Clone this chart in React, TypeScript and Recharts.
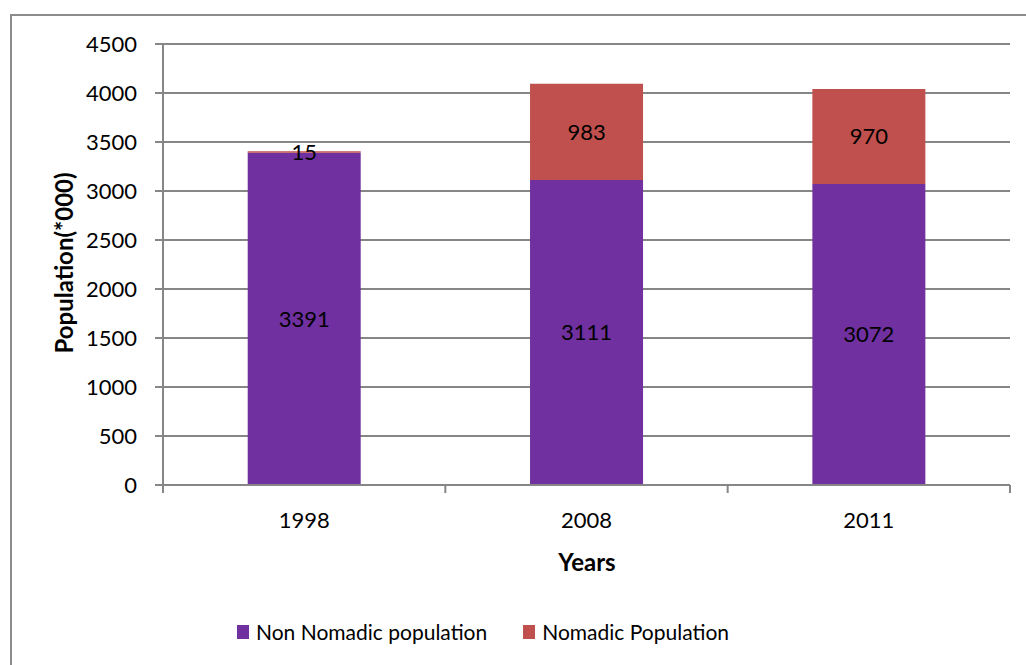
import React from 'react';
import { BarChart, Bar, XAxis, YAxis, CartesianGrid, LabelList } from 'recharts';

const years = ['1998', '2008', '2011'];
const nonNomadic = [3391, 3111, 3072];
const nomadic = [15, 983, 970];
const yTicks = [0, 500, 1000, 1500, 2000, 2500, 3000, 3500, 4000, 4500];

const seriesNames = ['Non Nomadic population', 'Nomadic Population'];
const seriesColors = ['#7030A0', '#C0504D'];

const W = 1026;
const H = 665;
const FONT = 'Lato, "Open Sans", sans-serif';
const AXIS = '#868686';

const PLOT_LEFT = 163;
const PLOT_RIGHT = 1010;
const BAND = (PLOT_RIGHT - PLOT_LEFT) / years.length;

const chartData = years.map((y, i) => ({
  year: y,
  nonNomadic: nonNomadic[i],
  nomadic: nomadic[i],
}));

// category label plus the boundary tick marks on either side of it
const YearTick = (props: any) => {
  const { x, y, payload, index } = props;
  const left = x - BAND / 2;
  return (
    <g>
      <line x1={left} y1={y - 8} x2={left} y2={y} stroke={AXIS} strokeWidth={2} />
      {index === years.length - 1 && (
        <line x1={x + BAND / 2} y1={y - 8} x2={x + BAND / 2} y2={y} stroke={AXIS} strokeWidth={2} />
      )}
      <text x={x} y={y + 26} textAnchor="middle" dominantBaseline="central" fontSize={22} fontFamily={FONT} fill="#000">
        {payload.value}
      </text>
    </g>
  );
};

const App: React.FC = () => {
  return (
    <div style={{ position: 'absolute', left: 0, top: 0, width: W, height: H, overflow: 'hidden', background: '#fff', fontFamily: FONT }}>
      <div
        style={{
          position: 'absolute',
          left: 10,
          top: 14,
          width: W + 40,
          height: H + 40,
          border: '2px solid #8c8c8c',
          boxSizing: 'border-box',
        }}
      />
      <div style={{ position: 'absolute', left: 0, top: 0 }}>
        <BarChart
          width={W}
          height={H}
          data={chartData}
          margin={{ top: 44, right: W - PLOT_RIGHT, bottom: 120, left: 0 }}
          barCategoryGap="30%"
        >
          <CartesianGrid vertical={false} stroke={AXIS} strokeWidth={2} />
          <XAxis
            dataKey="year"
            height={60}
            axisLine={{ stroke: AXIS, strokeWidth: 2 }}
            tickLine={false}
            tick={<YearTick />}
            interval={0}
          />
          <YAxis
            width={PLOT_LEFT}
            domain={[0, 4500]}
            ticks={yTicks}
            interval={0}
            axisLine={{ stroke: AXIS, strokeWidth: 2 }}
            tickLine={{ stroke: AXIS, strokeWidth: 2 }}
            tickSize={8}
            tickMargin={18}
            tick={{ fontSize: 22, fontFamily: FONT, fill: '#000' }}
          />
          <Bar dataKey="nonNomadic" stackId="a" fill={seriesColors[0]} isAnimationActive={false}>
            <LabelList dataKey="nonNomadic" position="center" fill="#000" fontSize={22} fontFamily={FONT} />
          </Bar>
          <Bar dataKey="nomadic" stackId="a" fill={seriesColors[1]} isAnimationActive={false}>
            <LabelList dataKey="nomadic" position="center" fill="#000" fontSize={22} fontFamily={FONT} />
          </Bar>
          <text
            x={63}
            y={263}
            transform="rotate(-90 63 263)"
            textAnchor="middle"
            dominantBaseline="central"
            fontSize={24}
            fontWeight="bold"
            fontFamily={FONT}
            fill="#000"
          >
            Population(*000)
          </text>
          <text x={587} y={561} textAnchor="middle" dominantBaseline="central" fontSize={24} fontWeight="bold" fontFamily={FONT} fill="#000">
            Years
          </text>
        </BarChart>
      </div>
      <div style={{ position: 'absolute', left: 237, top: 619, display: 'flex', alignItems: 'center', fontSize: 21, color: '#000' }}>
        {seriesNames.map((name, i) => (
          <div key={name} style={{ display: 'flex', alignItems: 'center', marginRight: 36 }}>
            <span style={{ width: 12, height: 14, background: seriesColors[i], marginRight: 7, display: 'inline-block' }} />
            <span>{name}</span>
          </div>
        ))}
      </div>
    </div>
  );
};

export default App;
